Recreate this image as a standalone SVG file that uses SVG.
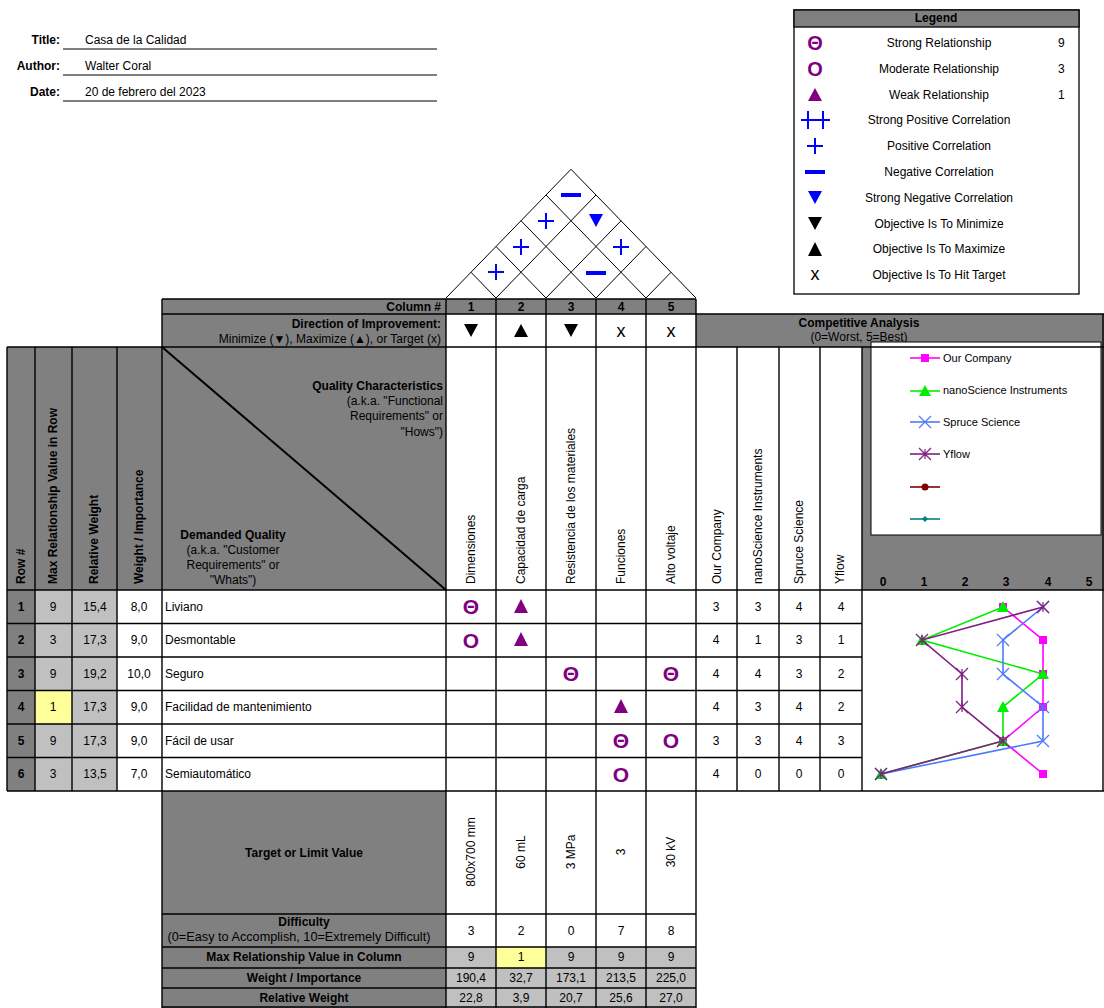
<svg xmlns="http://www.w3.org/2000/svg" width="1104" height="1008" viewBox="0 0 1104 1008">
<style>
text{font-family:"Liberation Sans",Arial,sans-serif;font-size:12px;fill:#000}
.b{font-weight:bold}
.xs text{font-size:11px}
.m{text-anchor:middle}
.e{text-anchor:end}
.g{fill:#808080}
.lg{fill:#c0c0c0}
.w{fill:#fff}
.y{fill:#ffff99}
.ln{stroke:#000;stroke-width:1.4;fill:none}
.thin{stroke:#000;stroke-width:1;fill:none}
.rel{fill:#800080;font-weight:bold;font-size:21px;text-anchor:middle}
.tri{fill:#800080}
.pos{stroke:#0000ff;stroke-width:2;fill:none}
.neg{stroke:#0000ff;stroke-width:4}
.ser{fill:none;stroke-width:1.6}
</style>
<defs>
 <marker id="mSq" markerUnits="userSpaceOnUse" markerWidth="10" markerHeight="10" refX="5" refY="5"><rect x="1" y="1" width="8" height="8" fill="#ff00ff"/></marker>
 <marker id="mTri" markerUnits="userSpaceOnUse" markerWidth="14" markerHeight="14" refX="7" refY="7"><polygon points="7,1 13,12 1,12" fill="#00ee00"/></marker>
 <marker id="mX" markerUnits="userSpaceOnUse" markerWidth="14" markerHeight="14" refX="7" refY="7"><path d="M1,1L13,13M13,1L1,13" stroke="#4d79ff" stroke-width="1.2"/></marker>
 <marker id="mStar" markerUnits="userSpaceOnUse" markerWidth="14" markerHeight="14" refX="7" refY="7"><path d="M1,1L13,13M13,1L1,13M7,2L7,12" stroke="#7f1f7f" stroke-width="1.2"/></marker>
 <marker id="mCirc" markerUnits="userSpaceOnUse" markerWidth="10" markerHeight="10" refX="5" refY="5"><circle cx="5" cy="5" r="3.5" fill="#800000"/></marker>
 <marker id="mDia" markerUnits="userSpaceOnUse" markerWidth="10" markerHeight="10" refX="5" refY="5"><polygon points="5,2 8,5 5,8 2,5" fill="#008080"/></marker>
</defs>
<rect x="0" y="0" width="1104" height="1008" fill="#fff"/>

<!-- Title block -->
<g id="title-block">
 <text class="b e" x="60" y="44">Title:</text><text x="85" y="44">Casa de la Calidad</text>
 <text class="b e" x="60" y="70">Author:</text><text x="85" y="70">Walter Coral</text>
 <text class="b e" x="60" y="96">Date:</text><text x="85" y="96">20 de febrero del 2023</text>
 <path class="thin" d="M63,49H437M63,75H437M63,101H437"/>
</g>

<!-- Legend -->
<g id="legend">
 <rect x="794" y="10" width="285" height="284" fill="#fff" stroke="#000" stroke-width="1.3"/>
 <rect x="794" y="10" width="285" height="17" class="g" stroke="#000" stroke-width="1.3"/>
 <text class="b m" x="936" y="22">Legend</text>
 <text class="rel" x="815" y="50" style="font-size:20px">Θ</text>
 <text class="rel" x="815" y="76" style="font-size:20px">O</text>
 <polygon class="tri" points="815,88 822,101 808,101"/>
 <path class="pos" d="M801,120H830M808,111V129M823,111V129"/>
 <path class="pos" d="M807,146H823M815,138V154"/>
 <path class="neg" d="M805,172H825"/>
 <polygon points="808,191 822,191 815,204" fill="#0000ff"/>
 <polygon points="808,217 822,217 815,230" fill="#000"/>
 <polygon points="815,242 822,256 808,256" fill="#000"/>
 <text class="m" x="815" y="280" style="font-size:18px">x</text>
 <g>
  <text class="m" x="939" y="47">Strong Relationship</text><text x="1058" y="47">9</text>
  <text class="m" x="939" y="73">Moderate Relationship</text><text x="1058" y="73">3</text>
  <text class="m" x="939" y="99">Weak Relationship</text><text x="1058" y="99">1</text>
  <text class="m" x="939" y="124">Strong Positive Correlation</text>
  <text class="m" x="939" y="150">Positive Correlation</text>
  <text class="m" x="939" y="176">Negative Correlation</text>
  <text class="m" x="939" y="202">Strong Negative Correlation</text>
  <text class="m" x="939" y="228">Objective Is To Minimize</text>
  <text class="m" x="939" y="253">Objective Is To Maximize</text>
  <text class="m" x="939" y="279">Objective Is To Hit Target</text>
 </g>
</g>

<!-- Roof -->
<g id="roof">
 <g transform="translate(0,298) scale(1,1.03) translate(0,-298)">
 <path class="thin" vector-effect="non-scaling-stroke" d="M446,298L571,173L696,298
  M496,298L596,198M496,298L471,273
  M546,298L621,223M546,298L496,248
  M596,298L646,248M596,298L521,223
  M646,298L671,273M646,298L546,198"/>
 </g>
 <path class="neg" d="M561,195H581"/>
 <path class="pos" d="M538,221H554M546,213V229"/>
 <polygon points="589,214 603,214 596,227" fill="#0000ff"/>
 <path class="pos" d="M513,247H529M521,239V255"/>
 <path class="pos" d="M613,247H629M621,239V255"/>
 <path class="pos" d="M488,272H504M496,264V280"/>
 <path class="neg" d="M586,273H606"/>
</g>

<!-- Backgrounds -->
<g id="backgrounds">
 <rect x="162" y="299" width="534" height="15" class="g"/>
 <rect x="162" y="314" width="284" height="33" class="g"/>
 <rect x="696" y="314" width="408" height="33" class="g"/>
 <rect x="7" y="347" width="439" height="243" class="g"/>
 <rect x="862" y="347" width="242" height="243" class="g"/>
 <rect x="7" y="590" width="28" height="201" class="g"/>
 <rect x="35" y="590" width="82" height="201" class="lg"/>
 <rect x="35" y="690.5" width="37" height="33.5" class="y"/>
 <rect x="162" y="791" width="284" height="217" class="g"/>
 <rect x="446" y="947" width="250" height="61" class="lg"/>
 <rect x="496" y="947" width="50" height="21" class="y"/>
</g>

<!-- Header texts -->
<g id="header">
 <text class="b e" x="441" y="311">Column #</text>
 <g>
  <text class="b m" x="471" y="311">1</text><text class="b m" x="521" y="311">2</text><text class="b m" x="571" y="311">3</text><text class="b m" x="621" y="311">4</text><text class="b m" x="671" y="311">5</text>
 </g>
 <text class="b e" x="441" y="328">Direction of Improvement:</text>
 <text class="e" x="441" y="343">Minimize (▼), Maximize (▲), or Target (x)</text>
 <polygon points="464,324 478,324 471,337" fill="#000"/>
 <polygon points="521,324 528,337 514,337" fill="#000"/>
 <polygon points="564,324 578,324 571,337" fill="#000"/>
 <text class="m" x="621" y="337" style="font-size:18px">x</text>
 <text class="m" x="671" y="337" style="font-size:18px">x</text>
 <text class="b m" x="859" y="327">Competitive Analysis</text>
 <text class="m" x="859" y="341">(0=Worst, 5=Best)</text>

 <g>
  <text class="b" transform="translate(25,584) rotate(-90)">Row #</text>
  <text class="b" transform="translate(57,584) rotate(-90)">Max Relationship Value in Row</text>
  <text class="b" transform="translate(98,584) rotate(-90)">Relative Weight</text>
  <text class="b" transform="translate(143,584) rotate(-90)">Weight / Importance</text>
 </g>
 <text class="b e" x="443" y="390">Quality Characteristics</text>
 <text class="e" x="443" y="405">(a.k.a. "Functional</text>
 <text class="e" x="443" y="420">Requirements" or</text>
 <text class="e" x="443" y="436">"Hows")</text>
 <text class="b m" x="233" y="539">Demanded Quality</text>
 <text class="m" x="233" y="554">(a.k.a. "Customer</text>
 <text class="m" x="233" y="569">Requirements" or</text>
 <text class="m" x="233" y="584">"Whats")</text>

 <text transform="translate(475,584) rotate(-90)">Dimensiones</text>
 <text transform="translate(525,584) rotate(-90)">Capacidad de carga</text>
 <text transform="translate(575,584) rotate(-90)">Resistencia de los materiales</text>
 <text transform="translate(625,584) rotate(-90)">Funciones</text>
 <text transform="translate(675,584) rotate(-90)">Alto voltaje</text>
 <text transform="translate(721,584) rotate(-90)">Our Company</text>
 <text transform="translate(762,584) rotate(-90)">nanoScience Instruments</text>
 <text transform="translate(803,584) rotate(-90)">Spruce Science</text>
 <text transform="translate(844,584) rotate(-90)">Yflow</text>
</g>

<!-- Chart legend box -->
<g id="chart-legend">
 <rect x="871" y="342" width="230" height="193" fill="#fff" stroke="#000" stroke-width="1"/>
 <polyline class="ser" stroke="#ff00ff" points="910,358 925,358 940,358" marker-mid="url(#mSq)"/>
 <polyline class="ser" stroke="#00ee00" points="910,391 925,391 940,391" marker-mid="url(#mTri)"/>
 <polyline class="ser" stroke="#4d79ff" points="910,422 925,422 940,422" marker-mid="url(#mX)"/>
 <polyline class="ser" stroke="#7f1f7f" points="910,454 925,454 940,454" marker-mid="url(#mStar)"/>
 <polyline class="ser" stroke="#800000" points="910,487 925,487 940,487" marker-mid="url(#mCirc)"/>
 <polyline class="ser" stroke="#008080" points="910,519 925,519 940,519" marker-mid="url(#mDia)"/>
 <g class="xs">
  <text x="943" y="362">Our Company</text>
  <text x="943" y="394">nanoScience Instruments</text>
  <text x="943" y="426">Spruce Science</text>
  <text x="943" y="458">Yflow</text>
 </g>
 <g>
  <text class="b m" x="883" y="586">0</text><text class="b m" x="924" y="586">1</text><text class="b m" x="965" y="586">2</text><text class="b m" x="1006" y="586">3</text><text class="b m" x="1048" y="586">4</text><text class="b m" x="1089" y="586">5</text>
 </g>
</g>

<!-- Rows -->
<g id="rows">
 <g>
  <text class="b m" x="21" y="611">1</text><text class="b m" x="21" y="644">2</text><text class="b m" x="21" y="678">3</text><text class="b m" x="21" y="711">4</text><text class="b m" x="21" y="745">5</text><text class="b m" x="21" y="778">6</text>
 </g>
 <g>
  <text class="m" x="53" y="611">9</text><text class="m" x="53" y="644">3</text><text class="m" x="53" y="678">9</text><text class="m" x="53" y="711">1</text><text class="m" x="53" y="745">9</text><text class="m" x="53" y="778">3</text>
  <text class="m" x="95" y="611">15,4</text><text class="m" x="95" y="644">17,3</text><text class="m" x="95" y="678">19,2</text><text class="m" x="95" y="711">17,3</text><text class="m" x="95" y="745">17,3</text><text class="m" x="95" y="778">13,5</text>
  <text class="m" x="139" y="611">8,0</text><text class="m" x="139" y="644">9,0</text><text class="m" x="139" y="678">10,0</text><text class="m" x="139" y="711">9,0</text><text class="m" x="139" y="745">9,0</text><text class="m" x="139" y="778">7,0</text>
 </g>
 <g>
  <text x="165" y="611">Liviano</text>
  <text x="165" y="644">Desmontable</text>
  <text x="165" y="678">Seguro</text>
  <text x="165" y="711">Facilidad de mantenimiento</text>
  <text x="165" y="745">Fácil de usar</text>
  <text x="165" y="778">Semiautomático</text>
 </g>
 <g>
  <text class="m" x="716" y="611">3</text><text class="m" x="758" y="611">3</text><text class="m" x="799" y="611">4</text><text class="m" x="841" y="611">4</text>
  <text class="m" x="716" y="644">4</text><text class="m" x="758" y="644">1</text><text class="m" x="799" y="644">3</text><text class="m" x="841" y="644">1</text>
  <text class="m" x="716" y="678">4</text><text class="m" x="758" y="678">4</text><text class="m" x="799" y="678">3</text><text class="m" x="841" y="678">2</text>
  <text class="m" x="716" y="711">4</text><text class="m" x="758" y="711">3</text><text class="m" x="799" y="711">4</text><text class="m" x="841" y="711">2</text>
  <text class="m" x="716" y="745">3</text><text class="m" x="758" y="745">3</text><text class="m" x="799" y="745">4</text><text class="m" x="841" y="745">3</text>
  <text class="m" x="716" y="778">4</text><text class="m" x="758" y="778">0</text><text class="m" x="799" y="778">0</text><text class="m" x="841" y="778">0</text>
 </g>
</g>

<!-- Relationship matrix -->
<g id="matrix">
 <text class="rel" x="471" y="614">Θ</text>
 <polygon class="tri" points="521,599 528,613 514,613"/>
 <text class="rel" x="471" y="648">O</text>
 <polygon class="tri" points="521,632 528,646 514,646"/>
 <text class="rel" x="571" y="681">Θ</text>
 <text class="rel" x="671" y="681">Θ</text>
 <polygon class="tri" points="621,699 628,713 614,713"/>
 <text class="rel" x="621" y="748">Θ</text>
 <text class="rel" x="671" y="748">O</text>
 <text class="rel" x="621" y="782">O</text>
</g>

<!-- Competitive chart -->
<g id="chart">
 <polyline class="ser" stroke="#ff00ff" points="1003,607 1043,640 1043,674 1043,707 1003,741 1043,774" marker-start="url(#mSq)" marker-mid="url(#mSq)" marker-end="url(#mSq)"/>
 <polyline class="ser" stroke="#00ee00" points="1003,607 922,640 1043,674 1003,707 1003,741 881,774" marker-start="url(#mTri)" marker-mid="url(#mTri)" marker-end="url(#mTri)"/>
 <polyline class="ser" stroke="#4d79ff" points="1043,607 1003,640 1003,674 1043,707 1043,741 881,774" marker-start="url(#mX)" marker-mid="url(#mX)" marker-end="url(#mX)"/>
 <polyline class="ser" stroke="#7f1f7f" points="1043,607 922,640 962,674 962,707 1003,741 881,774" marker-start="url(#mStar)" marker-mid="url(#mStar)" marker-end="url(#mStar)"/>
</g>

<!-- Bottom -->
<g id="bottom">
 <text class="b m" x="304" y="857">Target or Limit Value</text>
 <text class="m" transform="translate(475,852) rotate(-90)">800x700 mm</text>
 <text class="m" transform="translate(525,852) rotate(-90)">60 mL</text>
 <text class="m" transform="translate(575,852) rotate(-90)">3 MPa</text>
 <text class="m" transform="translate(625,852) rotate(-90)">3</text>
 <text class="m" transform="translate(675,852) rotate(-90)">30 kV</text>
 <text class="b m" x="304" y="926">Difficulty</text>
 <text class="m" x="299" y="941" style="font-size:12.7px">(0=Easy to Accomplish, 10=Extremely Difficult)</text>
 <g>
  <text class="m" x="471" y="935">3</text><text class="m" x="521" y="935">2</text><text class="m" x="571" y="935">0</text><text class="m" x="621" y="935">7</text><text class="m" x="671" y="935">8</text>
 </g>
 <text class="b m" x="304" y="961">Max Relationship Value in Column</text>
 <text class="b m" x="304" y="982">Weight / Importance</text>
 <text class="b m" x="304" y="1002">Relative Weight</text>
 <g>
  <text class="m" x="471" y="961">9</text><text class="m" x="521" y="961">1</text><text class="m" x="571" y="961">9</text><text class="m" x="621" y="961">9</text><text class="m" x="671" y="961">9</text>
  <text class="m" x="471" y="982">190,4</text><text class="m" x="521" y="982">32,7</text><text class="m" x="571" y="982">173,1</text><text class="m" x="621" y="982">213,5</text><text class="m" x="671" y="982">225,0</text>
  <text class="m" x="471" y="1002">22,8</text><text class="m" x="521" y="1002">3,9</text><text class="m" x="571" y="1002">20,7</text><text class="m" x="621" y="1002">25,6</text><text class="m" x="671" y="1002">27,0</text>
 </g>
</g>

<!-- Grid lines -->
<g id="connectors">
 <path class="ln" d="M7,347V791M35,347V791M72,347V791M117,347V791
  M162,299V1008M446,299V1008M496,299V1008M546,299V1008M596,299V1008M646,299V1008M696,299V1008
  M737,347V791M779,347V791M820,347V791M862,347V791M1103,314V791
  M162,299H696M162,314H1104M7,347H1104M7,590H1104
  M7,623.5H862M7,657H862M7,690.5H862M7,724H862M7,757.5H862M7,791H1104
  M162,914H696M162,947H696M162,968H696M162,988H696M162,1007H696"/>
 <path stroke="#000" stroke-width="2" d="M162,347L446,590"/>
</g>
</svg>
